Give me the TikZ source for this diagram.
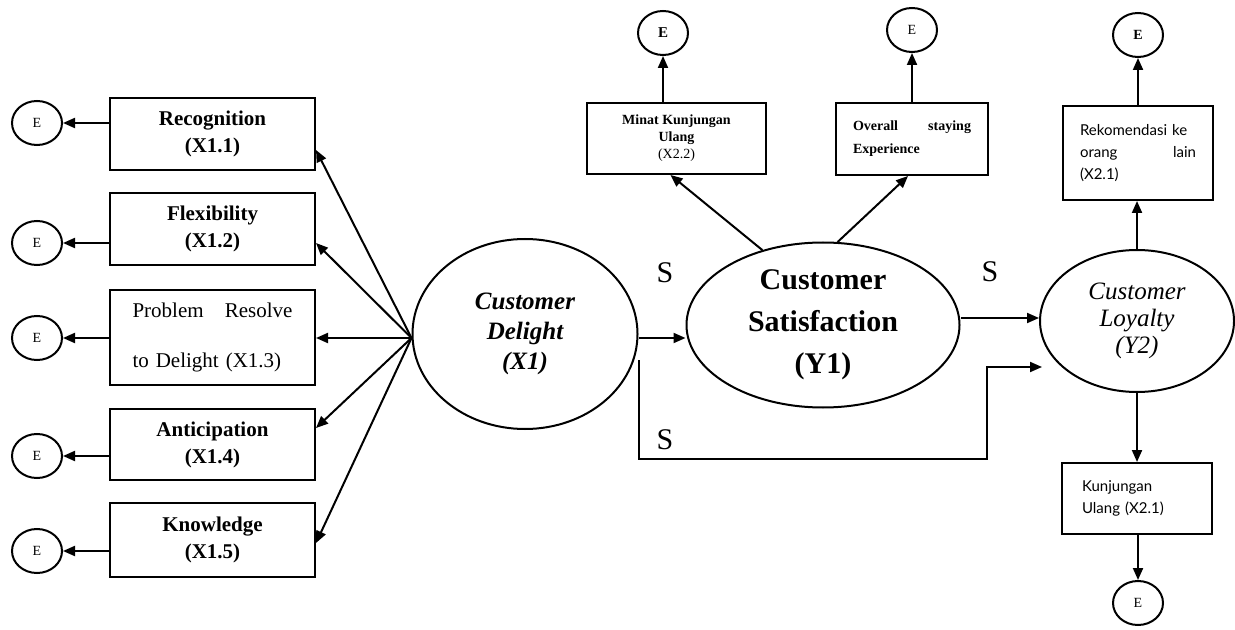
\documentclass[tikz,border=0pt]{standalone}
\usepackage{fontspec}
\setmainfont{Liberation Serif}[
  BoldFont={Liberation Serif Bold},
  ItalicFont={Liberation Serif Italic},
  BoldItalicFont={Liberation Serif Bold Italic}]
\newfontfamily\indsans{Lato}
\usetikzlibrary{arrows.meta,calc,shapes.geometric}

\begin{document}
\begin{tikzpicture}[x=0.5pt,y=-0.5pt,line width=1pt,
  arr/.style={-{Triangle[length=6pt,width=5pt]}},
  errnode/.style={draw,ellipse,minimum width=25pt,minimum height=22pt,inner sep=0pt,
    font=\fontsize{7}{8}\selectfont},
  indbox/.style={draw,rectangle,minimum width=102.5pt,align=center,inner sep=2pt,
    font=\bfseries\fontsize{10.5}{13.5}\selectfont},
  topbox/.style={draw,rectangle,inner sep=2pt},
  latent/.style={draw,ellipse,inner sep=0pt,align=center},
  slab/.style={font=\fontsize{15}{15}\selectfont}]

\useasboundingbox (0,0) rectangle (1235,630);

% indicators of Customer Delight
\node[indbox,minimum height=36pt]   (rec)  at (212.5,134)   {Recognition\\(X1.1)};
\node[indbox,minimum height=36pt]   (flex) at (212.5,229)   {Flexibility\\(X1.2)};
\node[indbox,minimum height=47.5pt,text width=80pt,align=left,
      font=\fontsize{10.5}{25}\selectfont] (prob) at (212.5,337.5)
      {Problem\hfill Resolve\\to Delight (X1.3)};
\node[indbox,minimum height=35.5pt] (ant)  at (212.5,444.5) {Anticipation\\(X1.4)};
\node[indbox,minimum height=37pt]   (know) at (212.5,540)   {Knowledge\\(X1.5)};

% their error terms
\node[errnode] (e1) at (37,123) {E};
\node[errnode] (e2) at (37,243) {E};
\node[errnode] (e3) at (37,338) {E};
\node[errnode] (e4) at (37,456) {E};
\node[errnode] (e5) at (37,551) {E};

% latent variables
\node[latent,minimum width=112.5pt,minimum height=95pt,
      font=\bfseries\itshape\fontsize{12.5}{15}\selectfont] (del) at (525,334)
      {Customer\\Delight\\(X1)};
\coordinate (delc) at (525,338);
\node[latent,minimum width=136.5pt,minimum height=82.5pt,
      font=\bfseries\fontsize{15}{21}\selectfont] (sat) at (823,325)
      {Customer\\Satisfaction\\(Y1)};
\node[latent,minimum width=97pt,minimum height=71pt,
      font=\itshape\fontsize{12.5}{13.5}\selectfont] (loy) at (1137,321)
      {Customer\\Loyalty\\(Y2)};

% indicators of satisfaction and loyalty
\node[topbox,minimum width=89.5pt,minimum height=35.5pt,align=center,
      font=\bfseries\fontsize{7}{8.5}\selectfont] (minat) at (676.5,138.5)
      {Minat Kunjungan\\Ulang\\{\mdseries(X2.2)}};
\node[topbox,minimum width=76pt,minimum height=36pt,text width=59pt,align=left,
      font=\bfseries\fontsize{7}{11.5}\selectfont] (over) at (912,139)
      {Overall\hfill staying\\Experience};
\node[topbox,minimum width=75pt,minimum height=47pt,text width=58pt,align=left,
      font=\indsans\fontsize{7.5}{11}\selectfont] (rek) at (1138,153)
      {Rekomendasi ke\\orang\hfill lain\\(X2.1)};
\node[topbox,minimum width=75pt,minimum height=35.5pt,text width=55pt,align=left,
      font=\indsans\fontsize{7.5}{11}\selectfont] (kun) at (1137,498.5)
      {Kunjungan\\Ulang (X2.1)};

\node[errnode,font=\bfseries\fontsize{7.5}{8}\selectfont] (mE) at (663,33)  {E};
\node[errnode] (oE) at (912,30)   {E};
\node[errnode,font=\bfseries\fontsize{7}{8}\selectfont] (rE) at (1138,35)  {E};
\node[errnode] (kE) at (1138,603) {E};

% path labels
\node[slab] (s1) at (665,273) {S};
\node[slab] (s2) at (990,272) {S};
\node[slab] (s3) at (665,440) {S};

% error arrows of the left indicators
\foreach \b/\e in {rec/e1,flex/e2,prob/e3,ant/e4,know/e5}
  \draw[arr] (\e -| \b.west) -- (\e);

% loadings of Customer Delight, all from one point on its left side
\coordinate (fan) at (del.west |- delc);
\draw[arr] (fan) -- ($(rec.east)+(0,16)$);
\draw[arr] (fan) -- ($(flex.east)+(0,14)$);
\draw[arr] (fan) -- ($(prob.east)+(0,0.5)$);
\draw[arr] (fan) -- ($(ant.east)+(0,-16.5)$);
\draw[arr] (fan) -- ($(know.east)+(0,3)$);

% structural paths
\coordinate (delright) at (del.east |- delc);
\draw[arr] (delright) -- (delright -| sat.west);
\draw[arr] ($(sat.east)+(0,-7)$) -- ($(loy.west)+(0,-3)$);
\coordinate (lowbend) at (987,459);
\coordinate (loytip) at (1042,367);
\draw[arr] ($(delright)+(0,22)$) |- (lowbend) |- (loytip);

% loadings of satisfaction and loyalty
\draw[arr] (sat.129) -- ($(minat.south)+(-6,0)$);
\draw[arr] (sat.80) -- ($(over.south)+(-4,0)$);
\draw[arr] (loy.north) -- (loy.north |- rek.south);
\draw[arr] (loy.south) -- (loy.south |- kun.north);

% error arrows of the upper and lower indicators
\draw[arr] (mE |- minat.north) -- (mE);
\draw[arr] (oE |- over.north) -- (oE);
\draw[arr] (rE |- rek.north) -- (rE);
\draw[arr] (kE |- kun.south) -- (kE);
\end{tikzpicture}
\end{document}
